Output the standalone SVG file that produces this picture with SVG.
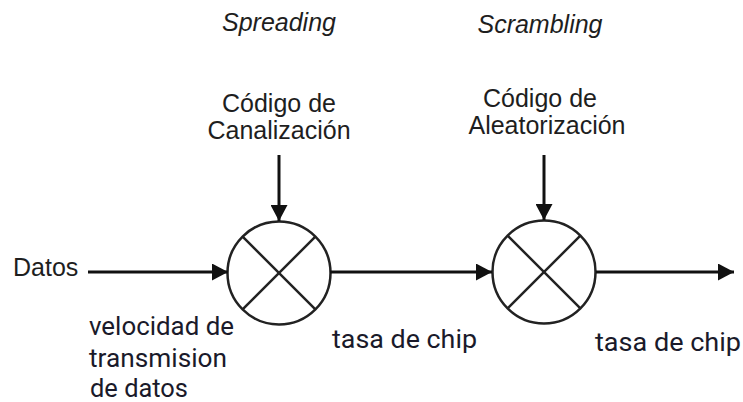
<svg xmlns="http://www.w3.org/2000/svg" width="743" height="402" viewBox="0 0 743 402">
  <defs>
    <marker id="arrow" viewBox="0 0 16 17" refX="16" refY="8.5" markerWidth="16" markerHeight="17" markerUnits="userSpaceOnUse" orient="auto">
      <path d="M0,0 L16,8.5 L0,17 Z" fill="#111"/>
    </marker>
  </defs>
  <style>
    .lbl { font-family: "Liberation Sans", Arial, sans-serif; font-size: 25px; fill: #1e1e1e; }
    .ital { font-style: italic; }
    .rate { font-family: Roboto, "Open Sans", sans-serif; font-size: 26px; fill: #1a1a2a; }
    .wire { stroke: #111; stroke-width: 3; fill: none; }
    .mixer circle { fill: #fff; stroke: #222; stroke-width: 2.5; }
    .mixer line { stroke: #222; stroke-width: 2.5; }
  </style>
  <rect width="743" height="402" fill="#fff"/>

  <!-- stage titles -->
  <text class="lbl ital" x="279" y="31" text-anchor="middle">Spreading</text>
  <text class="lbl ital" x="540" y="33" text-anchor="middle">Scrambling</text>

  <!-- code inputs -->
  <g id="code-canalizacion">
    <text class="lbl" x="279" y="112" text-anchor="middle">Código de</text>
    <text class="lbl" x="279" y="139" text-anchor="middle">Canalización</text>
  </g>
  <g id="code-aleatorizacion">
    <text class="lbl" x="540" y="107" text-anchor="middle">Código de</text>
    <text class="lbl" x="547" y="134" text-anchor="middle">Aleatorización</text>
  </g>

  <!-- data input -->
  <g id="datos">
    <text class="lbl" x="13" y="276">Datos</text>
  </g>

  <!-- multipliers -->
  <g id="mixer-spreading" class="mixer">
    <circle cx="279" cy="273" r="51.5"/>
    <line x1="242.6" y1="236.6" x2="315.4" y2="309.4"/>
    <line x1="315.4" y1="236.6" x2="242.6" y2="309.4"/>
  </g>
  <g id="mixer-scrambling" class="mixer">
    <circle cx="544" cy="272" r="51.5"/>
    <line x1="507.6" y1="235.6" x2="580.4" y2="308.4"/>
    <line x1="580.4" y1="235.6" x2="507.6" y2="308.4"/>
  </g>

  <!-- rate labels -->
  <g id="rate-datos">
    <text class="rate" x="89" y="335" textLength="145" lengthAdjust="spacingAndGlyphs">velocidad de</text>
    <text class="rate" x="89" y="367" textLength="138" lengthAdjust="spacingAndGlyphs">transmision</text>
    <text class="rate" x="90" y="397" textLength="98" lengthAdjust="spacingAndGlyphs">de datos</text>
  </g>
  <g id="rate-chip-1">
    <text class="rate" x="332" y="348" textLength="145" lengthAdjust="spacingAndGlyphs">tasa de chip</text>
  </g>
  <g id="rate-chip-2">
    <text class="rate" x="595" y="351" textLength="146" lengthAdjust="spacingAndGlyphs">tasa de chip</text>
  </g>

  <!-- connectors -->
  <g id="connectors">
    <line class="wire" x1="88" y1="272" x2="228" y2="272" marker-end="url(#arrow)"/>
    <line class="wire" x1="330" y1="272" x2="492" y2="272" marker-end="url(#arrow)"/>
    <line class="wire" x1="596" y1="272" x2="734" y2="272" marker-end="url(#arrow)"/>
    <line class="wire" x1="279" y1="155" x2="279" y2="221" marker-end="url(#arrow)"/>
    <line class="wire" x1="544" y1="155" x2="544" y2="220" marker-end="url(#arrow)"/>
  </g>
</svg>
